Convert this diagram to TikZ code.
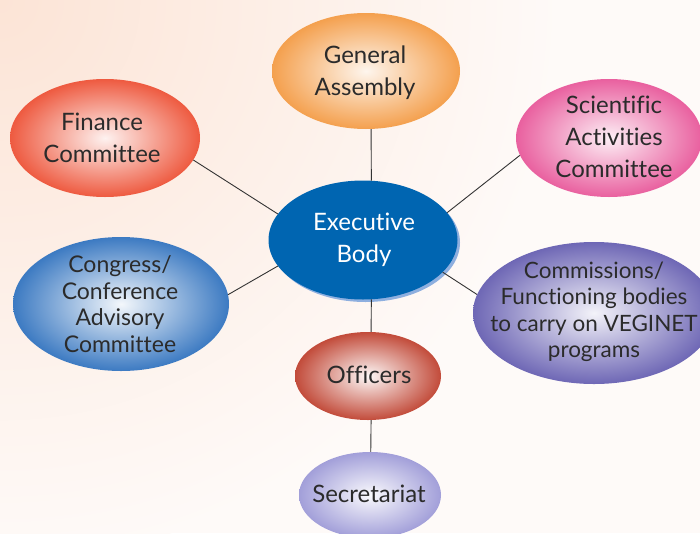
\documentclass[tikz,border=0pt]{standalone}
\usepackage{fontspec}
\setmainfont{Lato}[Ligatures=NoCommon]
\usetikzlibrary{shapes.geometric,shadows}

\definecolor{bgpeach}{HTML}{FCE4D6}
\definecolor{bgwhite}{HTML}{FEFAF8}
\definecolor{gaorange}{HTML}{F4A04E}
\definecolor{finred}{HTML}{EE5A40}
\definecolor{scipink}{HTML}{E9609F}
\definecolor{execblue}{HTML}{0065B1}
\definecolor{execshadow}{HTML}{8EAFDF}
\definecolor{congblue}{HTML}{3C7AC2}
\definecolor{commpurple}{HTML}{6E67B5}
\definecolor{offred}{HTML}{C24B3A}
\definecolor{seclilac}{HTML}{A29FD9}
\definecolor{textgray}{HTML}{2B2B2B}
\definecolor{linegray}{HTML}{333333}

\begin{document}
\begin{tikzpicture}[x=1pt,y=-1pt]
\clip (0,0) rectangle (700,533);
\fill[bgwhite] (0,0) rectangle (700,533);
\shade[inner color=bgpeach,outer color=bgwhite] (0,0) circle (560pt);

\begin{scope}[every node/.style={ellipse,inner sep=0pt}]
    \node[minimum width=188pt,minimum height=116pt,inner color=gaorange!10,outer color=gaorange] (assembly) at (366,71) {};
    \node[minimum width=190pt,minimum height=118pt,inner color=finred!8,outer color=finred] (finance) at (105,138) {};
    \node[minimum width=186pt,minimum height=118pt,inner color=scipink!10,outer color=scipink] (science) at (609,138) {};
    \node[minimum width=216pt,minimum height=134pt,inner color=congblue!6,outer color=congblue] (congress) at (121,304) {};
    \node[minimum width=242pt,minimum height=142pt,inner color=commpurple!8,outer color=commpurple] (commissions) at (594,313) {};
    \node[minimum width=146pt,minimum height=88pt,inner color=offred!4,outer color=offred] (officers) at (368,376) {};
    \node[minimum width=142pt,minimum height=86pt,inner color=seclilac!6,outer color=seclilac] (secretariat) at (370,495) {};
    \node[minimum width=189pt,minimum height=119pt,fill=execblue,
          drop shadow={shadow xshift=2.5pt,shadow yshift=-2.5pt,fill=execshadow,opacity=1}] (executive) at (363,240) {};
\end{scope}

\begin{scope}[every node/.style={align=center,text=textgray,font=\fontsize{24}{32}\selectfont}]
    \node (assembly-t) at (365,73) {General\\Assembly};
    \node (finance-t) at (102,138) {Finance\\Committee};
    \node (science-t) at (614,137) {Scientific\\Activities\\Committee};
    \node[text=white] (executive-t) at (364,240) {Executive\\Body};
    \node[font=\fontsize{23}{26.5}\selectfont] (congress-t) at (120,304) {Congress/\\Conference\\Advisory\\Committee};
    \node[font=\fontsize{22.5}{26.5}\selectfont] (commissions-t) at (594,312) {Commissions/\\Functioning bodies\\to carry on VEGINET\\programs};
    \node (officers-t) at (369,375) {Officers};
    \node (secretariat-t) at (369,494) {Secretariat};
\end{scope}

\begin{scope}[every edge/.style={draw=linegray,line width=0.9pt}]
    \path (assembly.-85) edge (executive.82);
    \path (finance.-14) edge (executive.163);
    \path (science.191) edge (executive.18.6);
    \path (congress.5) edge (executive.197);
    \path (commissions.171) edge (executive.-22);
    \path (executive.-82) edge (officers.86);
    \path (officers.-86) edge (secretariat.89);
\end{scope}
\end{tikzpicture}
\end{document}
